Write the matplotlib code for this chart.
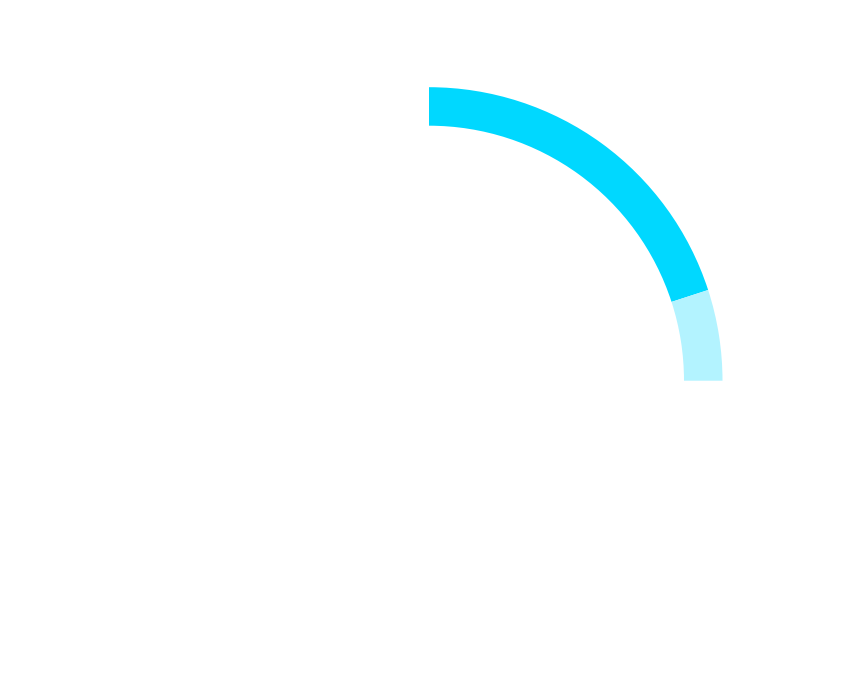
import matplotlib
matplotlib.use("Agg")
import matplotlib.pyplot as plt
from matplotlib.patches import Wedge

# Gauge data: value shown on a quarter-circle arc
categories = ["value", "remainder"]
values = [80, 20]
colors = ["#00D8FF", "#B3F3FF"]
arc_start_deg = 90   # top
arc_span_deg = 90    # quarter circle, clockwise

W, H = 858, 673
fig = plt.figure(figsize=(W / 100, H / 100), dpi=100)
ax = fig.add_axes([0, 0, 1, 1])
ax.set_xlim(0, W)
ax.set_ylim(0, H)
ax.set_aspect("equal")
ax.axis("off")

cx, cy = 429, H - 380.7
r_outer, width = 293.5, 38.5

total = sum(values)
theta = arc_start_deg
for v, c in zip(values, colors):
    span = arc_span_deg * v / total
    ax.add_patch(Wedge((cx, cy), r_outer, theta - span, theta, width=width,
                       facecolor=c, edgecolor="none"))
    theta -= span

fig.savefig("out.png", dpi=100, facecolor="white")
